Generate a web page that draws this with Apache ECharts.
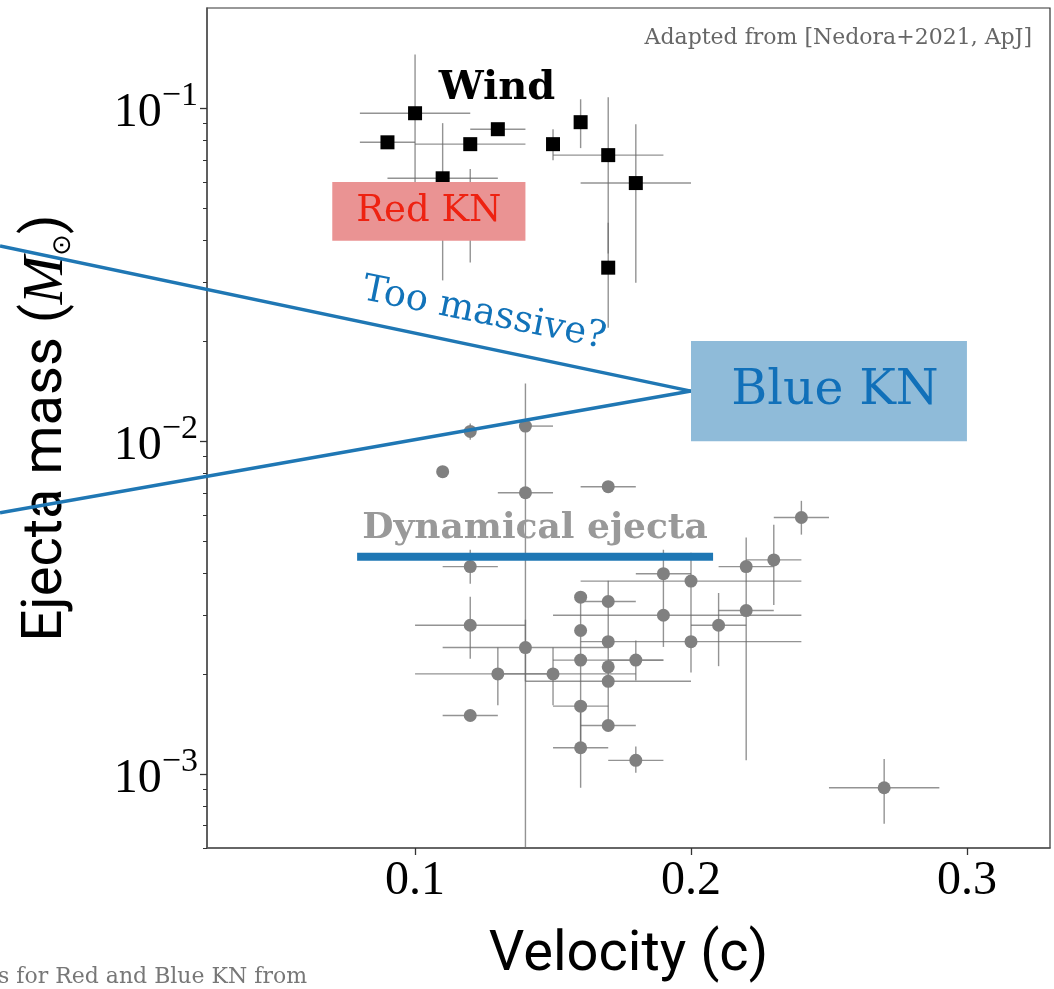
<!DOCTYPE html>
<html>
<head>
<meta charset="utf-8">
<script src="https://cdn.jsdelivr.net/npm/echarts@6/dist/echarts.min.js"></script>
<style>
  html, body { margin: 0; padding: 0; background: #fff; }
  #chart { width: 1054px; height: 989px; }
</style>
</head>
<body>
<div id="chart"></div>
<script>
// wind ejecta (black squares)
var windV   = [0.09, 0.10, 0.11, 0.12, 0.13, 0.15, 0.16, 0.17, 0.18, 0.17];
var windM   = [0.079, 0.0966, 0.0616, 0.078, 0.0865, 0.078, 0.0908, 0.0723, 0.0596, 0.0332];
var windVLo = [0.08, 0.08, 0.09, 0.10, 0.12, null, null, 0.15, 0.16, null];
var windVHi = [0.10, 0.12, 0.13, 0.14, 0.14, null, null, 0.19, 0.20, null];
var windMLo = [null, 0.05, 0.0304, 0.0344, null, 0.0698, 0.0759, 0.0366, 0.0299, 0.0219];
var windMHi = [null, 0.145, 0.0902, 0.0657, null, 0.0865, 0.1064, 0.1079, 0.0895, 0.0453];

// dynamical ejecta (grey circles)
var dynV   = [0.12, 0.11, 0.14, 0.14, 0.17, 0.12, 0.12, 0.12, 0.13, 0.14, 0.15, 0.16, 0.17, 0.16, 0.17, 0.16, 0.17,
              0.18, 0.17, 0.16, 0.17, 0.16, 0.18, 0.19, 0.20, 0.19, 0.20, 0.21, 0.22, 0.22, 0.23, 0.24, 0.27];
var dynM   = [0.0107, 0.0081, 0.0111, 0.0070, 0.0073, 0.0042, 0.0028, 0.0015, 0.0020, 0.0024, 0.0020, 0.0034, 0.0033,
              0.0027, 0.0025, 0.0022, 0.0021, 0.0022, 0.0019, 0.0016, 0.0014, 0.0012, 0.0011, 0.0040, 0.0038, 0.0030,
              0.0025, 0.0028, 0.0031, 0.0042, 0.0044, 0.0059, 0.00091];
var dynVLo = [null, null, 0.14, 0.13, 0.16, 0.11, 0.10, 0.11, 0.10, 0.11, 0.13, null, 0.16, null, null, 0.15, null,
              0.17, 0.14, 0.15, 0.16, 0.15, 0.17, 0.18, 0.16, 0.15, 0.16, 0.20, 0.21, 0.21, 0.22, 0.23, 0.25];
var dynVHi = [null, null, 0.15, 0.15, 0.18, 0.13, 0.14, 0.13, 0.15, 0.17, 0.18, null, 0.18, null, null, 0.19, null,
              0.19, 0.20, 0.17, 0.18, 0.17, 0.19, 0.20, 0.24, 0.24, 0.24, 0.22, 0.23, 0.23, 0.24, 0.25, 0.29];
var dynMLo = [0.0101, null, 0.0006, null, null, 0.00373, 0.00222, null, 0.00161, 0.0019, 0.00161, 0.00222, 0.00222,
              null, null, null, null, 0.00191, 0.00139, 0.00121, null, 0.00091, 0.00101, 0.00241, 0.00202, null,
              null, 0.00211, 0.0011, null, 0.00322, 0.00524, 0.00071];
var dynMHi = [0.0113, null, 0.0149, null, null, 0.00472, 0.00341, null, 0.0024, 0.00291, 0.0024, 0.00341, 0.00381,
              null, null, null, null, 0.00252, 0.00222, 0.00222, null, 0.00161, 0.00121, 0.00472, 0.00462, null,
              null, 0.0035, 0.00514, null, 0.00561, 0.00662, 0.00111];

// kilonova boxes
var knNames = ['Red KN', 'Blue KN'];
var knVLo = [0.07, 0.20];
var knVHi = [0.14, 0.30];
var knMLo = [0.04, 0.01];
var knMHi = [0.06, 0.02];

// "too massive?" guide lines (start, end) and dynamical-ejecta bar
var guideV0 = [-0.0504, -0.0504];
var guideM0 = [0.0386, 0.00609];
var guideV1 = [0.20, 0.20];
var guideM1 = [0.01414, 0.01414];
var dynBarV = [0.079, 0.208];
var dynBarM = [0.0045, 0.0045];

// axis ticks
var xTicks = [0.1, 0.2, 0.3];
var yMajor = [0.001, 0.01, 0.1];
var yMinor = [0.0006, 0.0007, 0.0008, 0.0009,
              0.002, 0.003, 0.004, 0.005, 0.006, 0.007, 0.008, 0.009,
              0.02, 0.03, 0.04, 0.05, 0.06, 0.07, 0.08, 0.09];

var errColor = 'rgba(105,105,105,0.72)';
var blue = '#1f77b4';

function zip(a, b) {
  return a.map(function (v, i) { return [v, b[i]]; });
}
function errRows(v, m, vlo, vhi, mlo, mhi) {
  return v.map(function (x, i) {
    return [x, m[i], vlo[i], vhi[i], mlo[i], mhi[i]];
  });
}

function renderErr(params, api) {
  var m = api.value(1), v = api.value(0);
  var kids = [];
  var st = { stroke: errColor, lineWidth: 1.4 };
  if (!isNaN(api.value(2)) && !isNaN(api.value(3))) {
    var a = api.coord([api.value(2), m]), b = api.coord([api.value(3), m]);
    kids.push({ type: 'line', shape: { x1: a[0], y1: a[1], x2: b[0], y2: b[1] }, style: st });
  }
  if (!isNaN(api.value(4)) && !isNaN(api.value(5))) {
    var c = api.coord([v, api.value(4)]), d = api.coord([v, api.value(5)]);
    kids.push({ type: 'line', shape: { x1: c[0], y1: c[1], x2: d[0], y2: d[1] }, style: st });
  }
  return { type: 'group', children: kids };
}

// guide lines run past the left edge of the plot, so no clipping here
function renderGuide(params, api) {
  var a = api.coord([api.value(0), api.value(1)]);
  var b = api.coord([api.value(2), api.value(3)]);
  return {
    type: 'line',
    shape: { x1: a[0], y1: a[1], x2: b[0], y2: b[1] },
    style: { stroke: blue, lineWidth: 3.5 }
  };
}

function renderBox(params, api) {
  var p0 = api.coord([api.value(0), api.value(3)]);
  var p1 = api.coord([api.value(1), api.value(2)]);
  var red = params.dataIndex === 0;
  return {
    type: 'group',
    children: [
      { type: 'rect',
        shape: { x: p0[0], y: p0[1], width: p1[0] - p0[0], height: p1[1] - p0[1] },
        style: { fill: red ? '#ea9393' : '#8fbbd9' } },
      { type: 'text',
        style: {
          text: knNames[params.dataIndex],
          x: (p0[0] + p1[0]) / 2 + (red ? 0 : 6), y: (p0[1] + p1[1]) / 2,
          align: 'center', verticalAlign: 'middle',
          fill: red ? '#ee2211' : '#1170b9',
          font: (red ? '37px' : '49px') + ' "DejaVu Serif"'
        } }
    ]
  };
}

var chart = echarts.init(document.getElementById('chart'));
chart.setOption({
  animation: false,
  backgroundColor: '#fff',
  grid: {
    left: 207, right: 4, top: 8, bottom: 141,
    outerBoundsMode: 'none',
    show: true, borderColor: '#333', borderWidth: 1.2
  },
  xAxis: {
    type: 'value', min: 0.0246, max: 0.3301,
    name: 'Velocity (c)', nameLocation: 'middle', nameGap: 80, nameMoveOverlap: false,
    nameTextStyle: { fontFamily: 'Roboto', fontSize: 56, color: '#000' },
    axisLine: { lineStyle: { color: '#555', width: 1.5 } },
    axisTick: { customValues: xTicks, length: 7, lineStyle: { color: '#333', width: 1.3 } },
    axisLabel: {
      customValues: xTicks, margin: 9,
      fontFamily: 'Liberation Serif', fontSize: 48, color: '#000',
      formatter: function (v) { return v.toFixed(1); }
    },
    splitLine: { show: false }
  },
  yAxis: [{
    type: 'log', min: 0.0006, max: 0.2, position: 'left',
    name: 'Ejecta mass ({m|M}{o|⊙})', nameLocation: 'middle', nameGap: 131, nameMoveOverlap: false,
    nameTextStyle: {
      fontFamily: 'Roboto', fontSize: 56, color: '#000',
      rich: {
        m: { fontFamily: 'Liberation Serif', fontStyle: 'italic', fontSize: 58, color: '#000' },
        o: { fontFamily: 'DejaVu Sans', fontSize: 26, color: '#000', verticalAlign: 'bottom', lineHeight: 56 }
      }
    },
    axisLine: { lineStyle: { color: '#555', width: 1.5 } },
    axisTick: { customValues: yMajor, length: 7, lineStyle: { color: '#333', width: 1.3 } },
    axisLabel: {
      customValues: yMajor, margin: 9,
      formatter: function (v) {
        return '{b|10}{s|\u2212' + Math.round(-Math.log10(v)) + '}';
      },
      rich: {
        b: { fontFamily: 'Liberation Serif', fontSize: 48, lineHeight: 58, color: '#000', verticalAlign: 'bottom' },
        s: { fontFamily: 'Liberation Serif', fontSize: 34, lineHeight: 30, color: '#000', verticalAlign: 'top' }
      }
    },
    splitLine: { show: false }
  }, {
    type: 'log', min: 0.0006, max: 0.2, position: 'left',
    axisLine: { show: false },
    axisTick: { customValues: yMinor, length: 4, lineStyle: { color: '#333', width: 1 } },
    axisLabel: { show: false },
    splitLine: { show: false }
  }],
  series: [
    {
      type: 'custom', name: 'wind errors', z: 2, clip: true,
      renderItem: renderErr,
      dimensions: ['v', 'm', 'vlo', 'vhi', 'mlo', 'mhi'],
      encode: { x: 0, y: 1 },
      data: errRows(windV, windM, windVLo, windVHi, windMLo, windMHi)
    },
    {
      type: 'custom', name: 'dyn errors', z: 2, clip: true,
      renderItem: renderErr,
      dimensions: ['v', 'm', 'vlo', 'vhi', 'mlo', 'mhi'],
      encode: { x: 0, y: 1 },
      data: errRows(dynV, dynM, dynVLo, dynVHi, dynMLo, dynMHi)
    },
    {
      type: 'scatter', name: 'Wind', z: 3,
      symbol: 'rect', symbolSize: 14,
      itemStyle: { color: '#000', opacity: 1 },
      data: zip(windV, windM)
    },
    {
      type: 'scatter', name: 'Dynamical ejecta', z: 3,
      symbol: 'circle', symbolSize: 13,
      itemStyle: { color: '#808080', opacity: 1 },
      data: zip(dynV, dynM)
    },
    {
      type: 'line', z: 4, clip: true, symbol: 'none',
      lineStyle: { color: blue, width: 8, cap: 'butt' },
      data: zip(dynBarV, dynBarM)
    },
    {
      type: 'custom', name: 'guides', z: 4, clip: false,
      renderItem: renderGuide,
      dimensions: ['v0', 'm0', 'v1', 'm1'],
      encode: { x: [0, 2], y: [1, 3] },
      data: guideV0.map(function (v, i) { return [v, guideM0[i], guideV1[i], guideM1[i]]; })
    },
    {
      type: 'custom', name: 'KN', z: 5,
      renderItem: renderBox,
      dimensions: ['vlo', 'vhi', 'mlo', 'mhi'],
      encode: { x: [0, 1], y: [2, 3] },
      data: knVLo.map(function (v, i) { return [v, knVHi[i], knMLo[i], knMHi[i]]; })
    }
  ],
  graphic: [
    { type: 'text', z: 10, x: 497, y: 89,
      style: { text: 'Wind', font: 'bold 40px "DejaVu Serif"', fill: '#000', align: 'center', verticalAlign: 'middle' } },
    { type: 'text', z: 10, x: 535, y: 529,
      style: { text: 'Dynamical ejecta', font: 'bold 36px "DejaVu Serif"', fill: '#999', align: 'center', verticalAlign: 'middle' } },
    { type: 'text', z: 10, x: 484, y: 314, rotation: -0.2,
      style: { text: 'Too massive?', font: '37px "DejaVu Serif"', fill: '#1273b9', align: 'center', verticalAlign: 'middle' } },
    { type: 'text', z: 10, x: 1032, y: 38,
      style: { text: 'Adapted from [Nedora+2021, ApJ]', font: '22px "DejaVu Serif"', fill: '#666', align: 'right', verticalAlign: 'middle' } },
    { type: 'text', z: 10, x: 307, y: 977,
      style: { text: 's for Red and Blue KN from', font: '22px "DejaVu Serif"', fill: '#777', align: 'right', verticalAlign: 'middle' } }
  ]
});
</script>
</body>
</html>
